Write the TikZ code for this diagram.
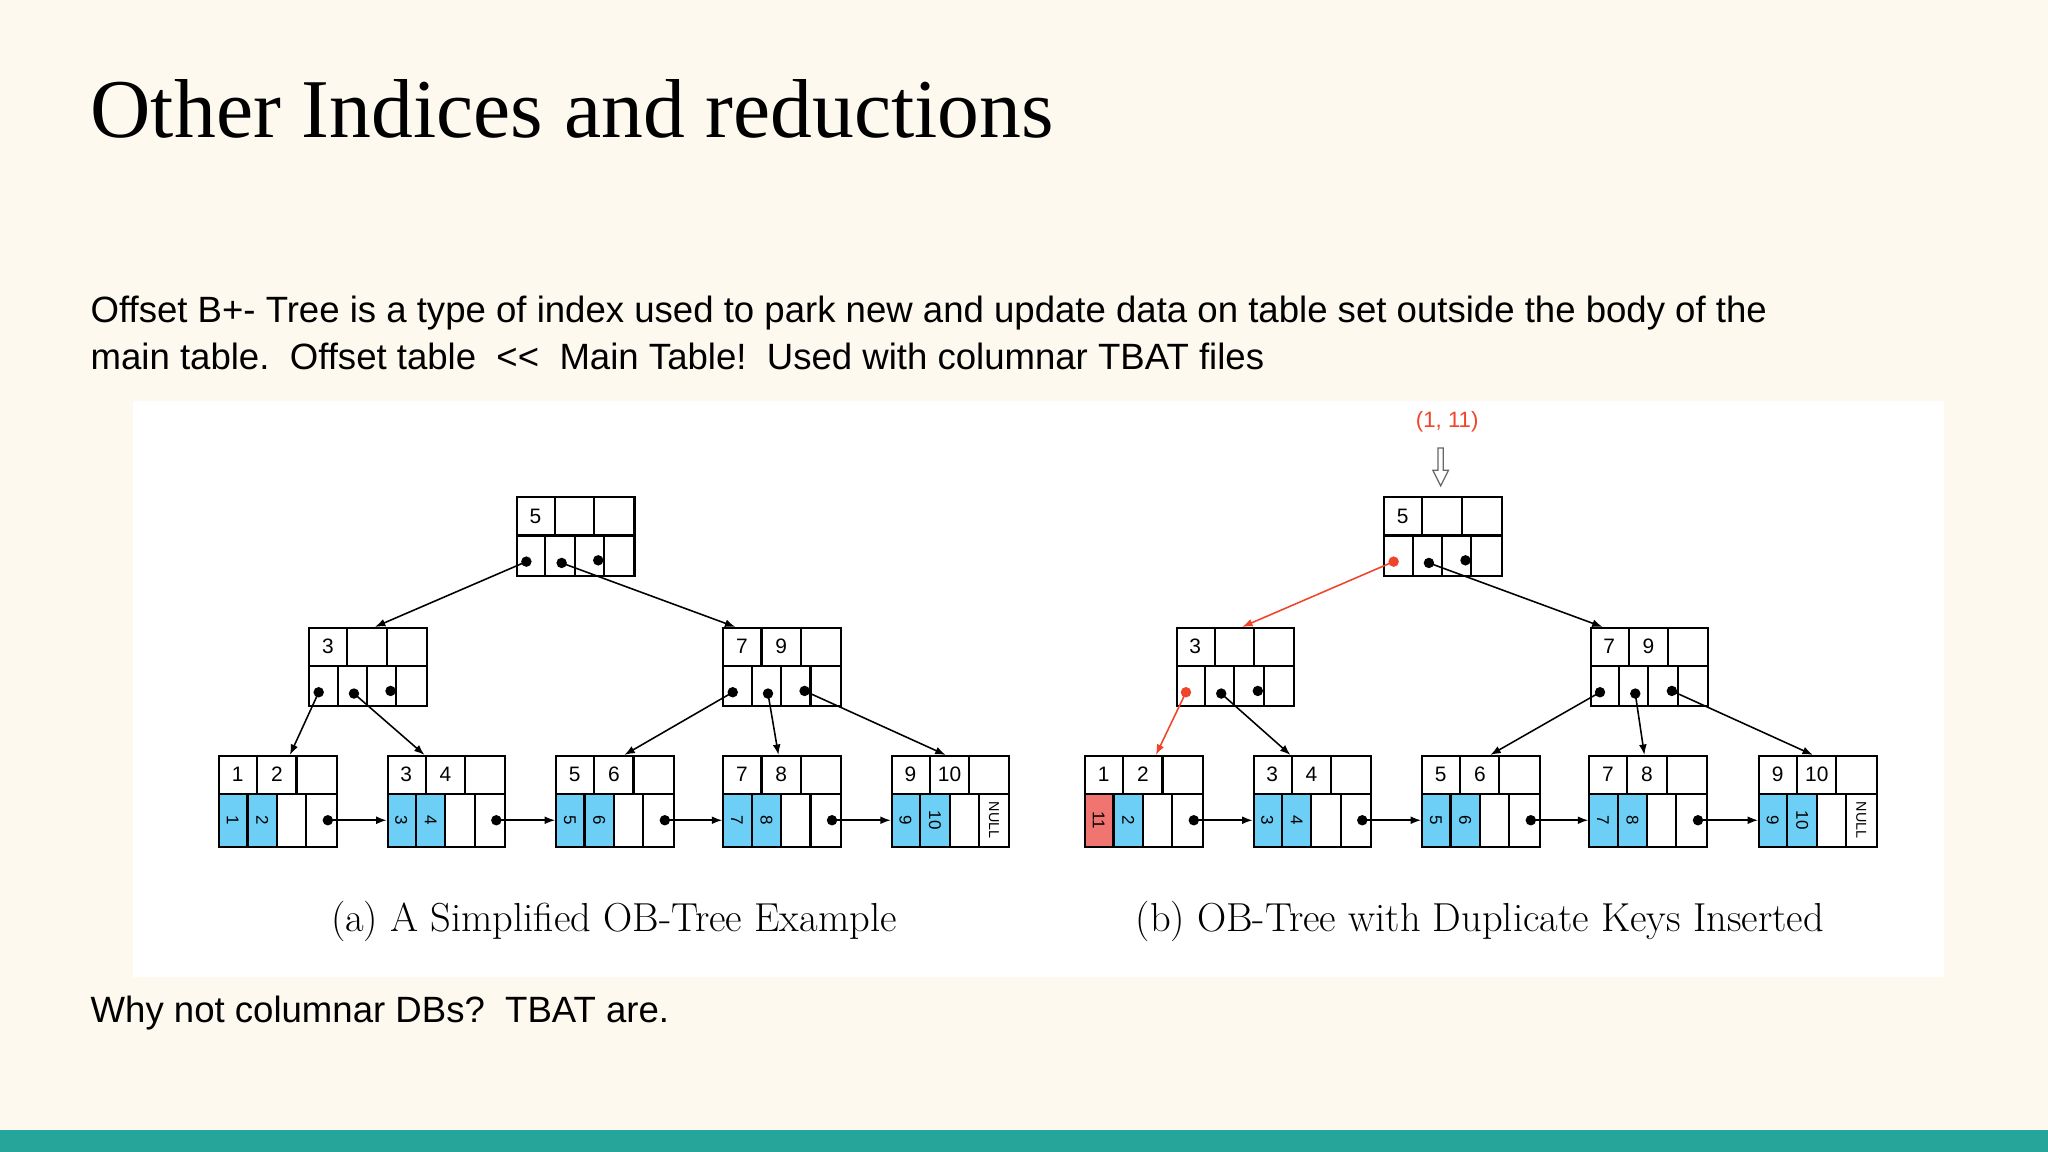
\documentclass[tikz,border=0pt]{standalone}
\usepackage{fontspec}
\newfontfamily\sansf{Liberation Sans}
\newfontfamily\titlef{Liberation Serif}
\usetikzlibrary{arrows.meta,calc}
\definecolor{bg}{HTML}{FDF9EF}
\definecolor{teal}{HTML}{26A69A}
\definecolor{cy}{HTML}{6DCFF6}
\definecolor{rf}{HTML}{F07470}
\definecolor{ra}{HTML}{F0452A}
\tikzset{
 box/.style={draw,line width=0.8pt,inner sep=0pt,anchor=north west,minimum width=45pt},
 lab/.style={font=\sansf\fontsize{8}{9}\selectfont,inner sep=0pt},
 rlab/.style={font=\sansf\fontsize{6.5}{7}\selectfont,inner sep=0pt,rotate=-90},
 dot/.style={circle,fill=black,inner sep=0pt,minimum size=4pt},
 rdot/.style={dot,fill=ra},
 ptr/.style={line width=0.6pt,-{Latex[length=4pt,width=3pt]}},
 rptr/.style={ptr,draw=ra,-{Latex[length=4pt,width=3pt,color=ra]}},
}
\newcommand\inode[6]{% x y name k1 k2 dotcolor1
\begin{scope}[shift={(#1,#2)}]
\node[box,minimum height=30pt] (#3) at (0,0) {};
\draw[line width=0.8pt] (0,30)--(90,30) (30,0)--(30,30) (60,0)--(60,30) (22.5,30)--(22.5,60) (45,30)--(45,60) (67.5,30)--(67.5,60);
\node[lab] (#3-k1) at (15,15) {#4};
\node[lab] (#3-k2) at (45,15) {#5};
\node[#6] (#3-p1) at (8,50) {};
\node[dot] (#3-p2) at (35,51) {};
\node[dot] (#3-p3) at (63,49) {};
\end{scope}}
\newcommand\leaf[7]{% x y name k1 k2 fill1 b1 b2
\begin{scope}[shift={(#1,#2)}]
\fill[#6] (0,30) rectangle (22.5,70);
\fill[cy] (22.5,30) rectangle (45,70);
\node[box,minimum height=35pt] (#3) at (0,0) {};
\draw[line width=0.8pt] (0,30)--(90,30) (30,0)--(30,30) (60,0)--(60,30) (22.5,30)--(22.5,70) (45,30)--(45,70) (67.5,30)--(67.5,70);
\node[lab] (#3-k1) at (15,15) {#4};
\node[lab] (#3-k2) at (45,15) {#5};
\node[rlab] (#3-b1) at (11.25,50) {#7};
\node[rlab] (#3-b2) at (33.75,50) {#5};
\end{scope}}
\begin{document}
\begin{tikzpicture}[x=0.5pt,y=-0.5pt]
\fill[bg] (0,0) rectangle (1568,882);
\useasboundingbox (0,0) rectangle (1568,882);
\fill[teal] (0,865) rectangle (1568,882);
\fill[white] (102,307) rectangle (1488,748);
\node[anchor=base west,inner sep=0,font=\titlef\fontsize{32}{38}\selectfont] (title) at (69,105) {Other Indices and reductions};
\node[anchor=base west,inner sep=0,font=\sansf\fontsize{14}{17}\selectfont] (l1) at (69,247) {Offset B+- Tree is a type of index used to park new and update data on table set outside the body of the};
\node[anchor=base west,inner sep=0,font=\sansf\fontsize{14}{17}\selectfont] (l2) at (69,283) {main table.\ \ Offset table\ \ <<\ \ Main Table!\ \ Used with columnar TBAT files};
\node[anchor=base west,inner sep=0,font=\sansf\fontsize{14}{17}\selectfont] (l3) at (69,783) {Why not columnar DBs?\ \ TBAT are.};
\node[anchor=base,inner sep=0,font=\fontsize{15.5}{18}\selectfont] (ca) at (470,713) {(a) A Simplified OB-Tree Example};
\node[anchor=base,inner sep=0,font=\fontsize{15.5}{18}\selectfont] (cb) at (1133,713) {(b) OB-Tree with Duplicate Keys Inserted};
% panel a
\inode{395}{380}{aR}{5}{}{dot}
\inode{236}{480}{aL}{3}{}{dot}
\inode{553}{480}{aM}{7}{9}{dot}
\leaf{167}{578}{a1}{1}{2}{cy}{1}
\leaf{296}{578}{a2}{3}{4}{cy}{3}
\leaf{425}{578}{a3}{5}{6}{cy}{5}
\leaf{553}{578}{a4}{7}{8}{cy}{7}
\leaf{682}{578}{a5}{9}{10}{cy}{9}
% panel b
\inode{1059}{380}{bR}{5}{}{rdot}
\inode{900}{480}{bL}{3}{}{rdot}
\inode{1217}{480}{bM}{7}{9}{dot}
\leaf{830}{578}{b1}{1}{2}{rf}{11}
\leaf{959}{578}{b2}{3}{4}{cy}{3}
\leaf{1088}{578}{b3}{5}{6}{cy}{5}
\leaf{1216}{578}{b4}{7}{8}{cy}{7}
\leaf{1346}{578}{b5}{9}{10}{cy}{9}
\foreach \p in {a,b}{
 \foreach \i/\j in {1/2,2/3,3/4,4/5}{
  \node[dot] (\p\i-q) at ($(\p\i.north west)+(84,50)$) {};
  \draw[ptr] (\p\i-q.center) -- ($(\p\j.north west)+(0,50)$);
 }
 \node[rlab,font=\sansf\fontsize{5.5}{6}\selectfont] (\p5-null) at ($(\p5.north west)+(79,50)$) {NULL};
 \draw[ptr] (\p R-p2.center) -- ($(\p M.north west)+(10,0)$);
 \draw[ptr] (\p L-p2.center) -- ($(\p2.north west)+(29,0)$);
 \draw[ptr] (\p M-p1.center) -- ($(\p3.north west)+(53,0)$);
 \draw[ptr] (\p M-p2.center) -- ($(\p4.north west)+(43,0)$);
 \draw[ptr] (\p M-p3.center) -- ($(\p5.north west)+(42,0)$);
}
\draw[ptr] (aR-p1.center) -- ($(aL.north west)+(51,0)$);
\draw[ptr] (aL-p1.center) -- ($(a1.north west)+(55,0)$);
\draw[rptr] (bR-p1.center) -- ($(bL.north west)+(51,0)$);
\draw[rptr] (bL-p1.center) -- ($(b1.north west)+(55,0)$);
% insert marker
\node[font=\sansf\fontsize{8.5}{10}\selectfont,text=ra,inner sep=0] (ins) at (1108,323) {(1, 11)};
\coordinate (hv) at (1103,343);
\draw[line width=0.5pt,fill=white,draw=black!60] (1101,343)--(1105,343)--(1105,360)--(1109,360)--(1103,372)--(1097,360)--(1101,360)--cycle;
\end{tikzpicture}
\end{document}
